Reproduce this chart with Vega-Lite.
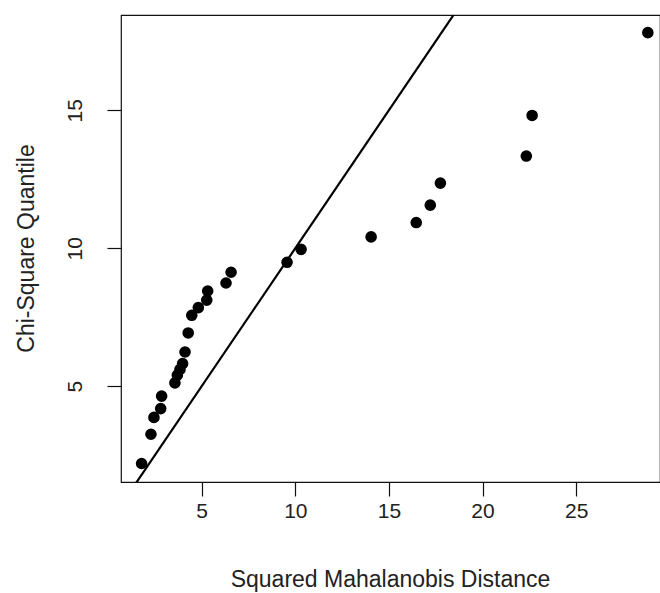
{
  "$schema": "https://vega.github.io/schema/vega-lite/v6.json",
  "autosize": {"type": "none"},
  "padding": {"left": 121, "top": 15, "right": 0, "bottom": 111},
  "width": 539,
  "height": 467,
  "background": "white",
  "config": {
    "view": {"stroke": "#111", "strokeWidth": 1.2},
    "font": "Liberation Sans",
    "axis": {
      "grid": false,
      "domain": false,
      "ticks": true,
      "tickSize": 14,
      "tickColor": "#111",
      "tickWidth": 1.2,
      "labelFont": "Liberation Sans",
      "labelFontSize": 21,
      "labelColor": "#222",
      "titleFont": "Liberation Sans",
      "titleFontSize": 23,
      "titleFontWeight": "normal",
      "titleColor": "#222"
    }
  },
  "datasets": {
    "pts": [
      {"d": 1.79, "q": 2.20},
      {"d": 2.29, "q": 3.26},
      {"d": 2.45, "q": 3.87},
      {"d": 2.81, "q": 4.19},
      {"d": 2.86, "q": 4.64},
      {"d": 3.57, "q": 5.12},
      {"d": 3.70, "q": 5.40},
      {"d": 3.84, "q": 5.61},
      {"d": 3.98, "q": 5.82},
      {"d": 4.11, "q": 6.24},
      {"d": 4.28, "q": 6.93},
      {"d": 4.47, "q": 7.57},
      {"d": 4.82, "q": 7.85},
      {"d": 5.27, "q": 8.12},
      {"d": 5.32, "q": 8.45},
      {"d": 6.30, "q": 8.74},
      {"d": 6.57, "q": 9.13},
      {"d": 9.56, "q": 9.49},
      {"d": 10.31, "q": 9.96},
      {"d": 14.05, "q": 10.41},
      {"d": 16.46, "q": 10.93},
      {"d": 17.21, "q": 11.56},
      {"d": 17.75, "q": 12.36},
      {"d": 22.34, "q": 13.34},
      {"d": 22.65, "q": 14.81},
      {"d": 28.83, "q": 17.81}
    ],
    "ref": [
      {"d": 0, "q": 0},
      {"d": 25, "q": 25}
    ]
  },
  "layer": [
    {
      "data": {"name": "ref"},
      "mark": {"type": "line", "color": "#000", "strokeWidth": 2.2, "clip": true},
      "encoding": {
        "x": {"field": "d", "type": "quantitative"},
        "y": {"field": "q", "type": "quantitative"}
      }
    },
    {
      "data": {"name": "pts"},
      "mark": {"type": "point", "filled": true, "color": "#000", "opacity": 1, "size": 135, "clip": true},
      "encoding": {
        "x": {
          "field": "d",
          "type": "quantitative",
          "scale": {"domain": [0.69, 29.48], "nice": false, "zero": false},
          "axis": {
            "title": "Squared Mahalanobis Distance",
            "values": [5, 10, 15, 20, 25],
            "labelPadding": 15,
            "labelBaseline": "middle",
            "titleBaseline": "alphabetic",
            "titleAnchor": "middle",
            "titleX": 269,
            "titleY": 104
          }
        },
        "y": {
          "field": "q",
          "type": "quantitative",
          "scale": {"domain": [1.53, 18.45], "nice": false, "zero": false},
          "axis": {
            "title": "Chi-Square Quantile",
            "values": [5, 10, 15],
            "labelAngle": -90,
            "labelAlign": "center",
            "labelBaseline": "middle",
            "labelPadding": 32,
            "titleAngle": -90,
            "titleBaseline": "alphabetic",
            "titleAnchor": "middle",
            "titleX": -88,
            "titleY": 233
          }
        }
      }
    }
  ]
}
